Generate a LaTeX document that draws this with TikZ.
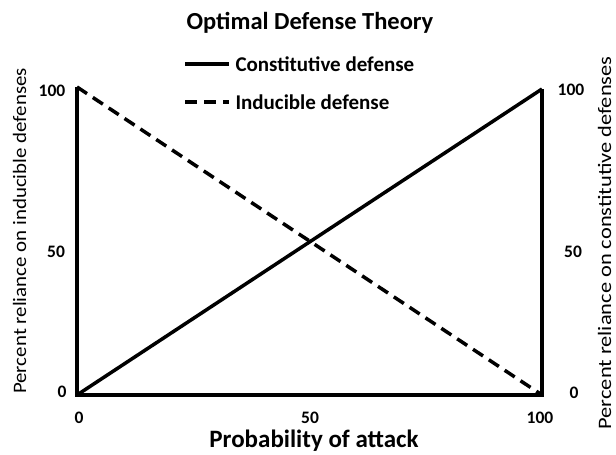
\documentclass[tikz,border=0pt]{standalone}
\usepackage{fontspec}
\setmainfont{Carlito}
\begin{document}
\begin{tikzpicture}[x=1pt,y=1pt,
    axis/.style={line width=4.5pt},
    curve/.style={line width=3.5pt},
    dashcurve/.style={line width=3.5pt,dash pattern=on 12pt off 7pt},
    tick/.style={font=\bfseries\fontsize{17.5}{20}\selectfont},
    ylab/.style={rotate=90,anchor=base,inner sep=0pt,font=\fontsize{19}{22}\selectfont}]
      \useasboundingbox (0,0) rectangle (616,455);
      \coordinate (o) at (77,60);
      \coordinate (tl) at (77,368);
      \coordinate (br) at (542,60);
      \coordinate (tr) at (542,366);
      \node[font=\bfseries\fontsize{24.5}{28}\selectfont] (title) at (310,432) {Optimal Defense Theory};
      \coordinate (c1) at (185,391);
      \coordinate (c2) at (229,391);
      \coordinate (i1) at (185,353);
      \coordinate (i2) at (229,353);
      \node[anchor=west,font=\bfseries\fontsize{21}{24}\selectfont] (const) at (232,391) {Constitutive defense};
      \node[anchor=west,font=\bfseries\fontsize{21}{24}\selectfont] (induc) at (232,353) {Inducible defense};
      \node[tick] (l100) at (52,364) {100};
      \node[tick] (l50) at (56,203) {50};
      \node[tick] (l0) at (62,63) {0};
      \node[tick] (b0) at (79,37) {0};
      \node[tick] (b50) at (310,37) {50};
      \node[tick] (b100) at (540,37) {100};
      \node[tick] (r100) at (571,365) {100};
      \node[tick] (r50) at (573,203) {50};
      \node[tick] (r0) at (574,62) {0};
      \node[ylab] (ylabl) at (26,224) {\scalebox{1.1}[1]{Percent reliance on inducible defenses}};
      \node[ylab] (ylabr) at (611,212) {\scalebox{1.18}[1]{Percent reliance on constitutive defenses}};
      \node[font=\bfseries\fontsize{25}{28}\selectfont] (xlab) at (314,14) {Probability of attack};
      \begin{scope}[line cap=butt]
        \draw[axis] (tl) -- (o) -- (br) -- (tr);
        \draw[curve] (o) -- (tr);
        \draw[dashcurve] (tl) -- (br);
        \draw[curve] (c1) -- (c2);
        \draw[dashcurve] (i1) -- (i2);
      \end{scope}
    \end{tikzpicture}
\end{document}
